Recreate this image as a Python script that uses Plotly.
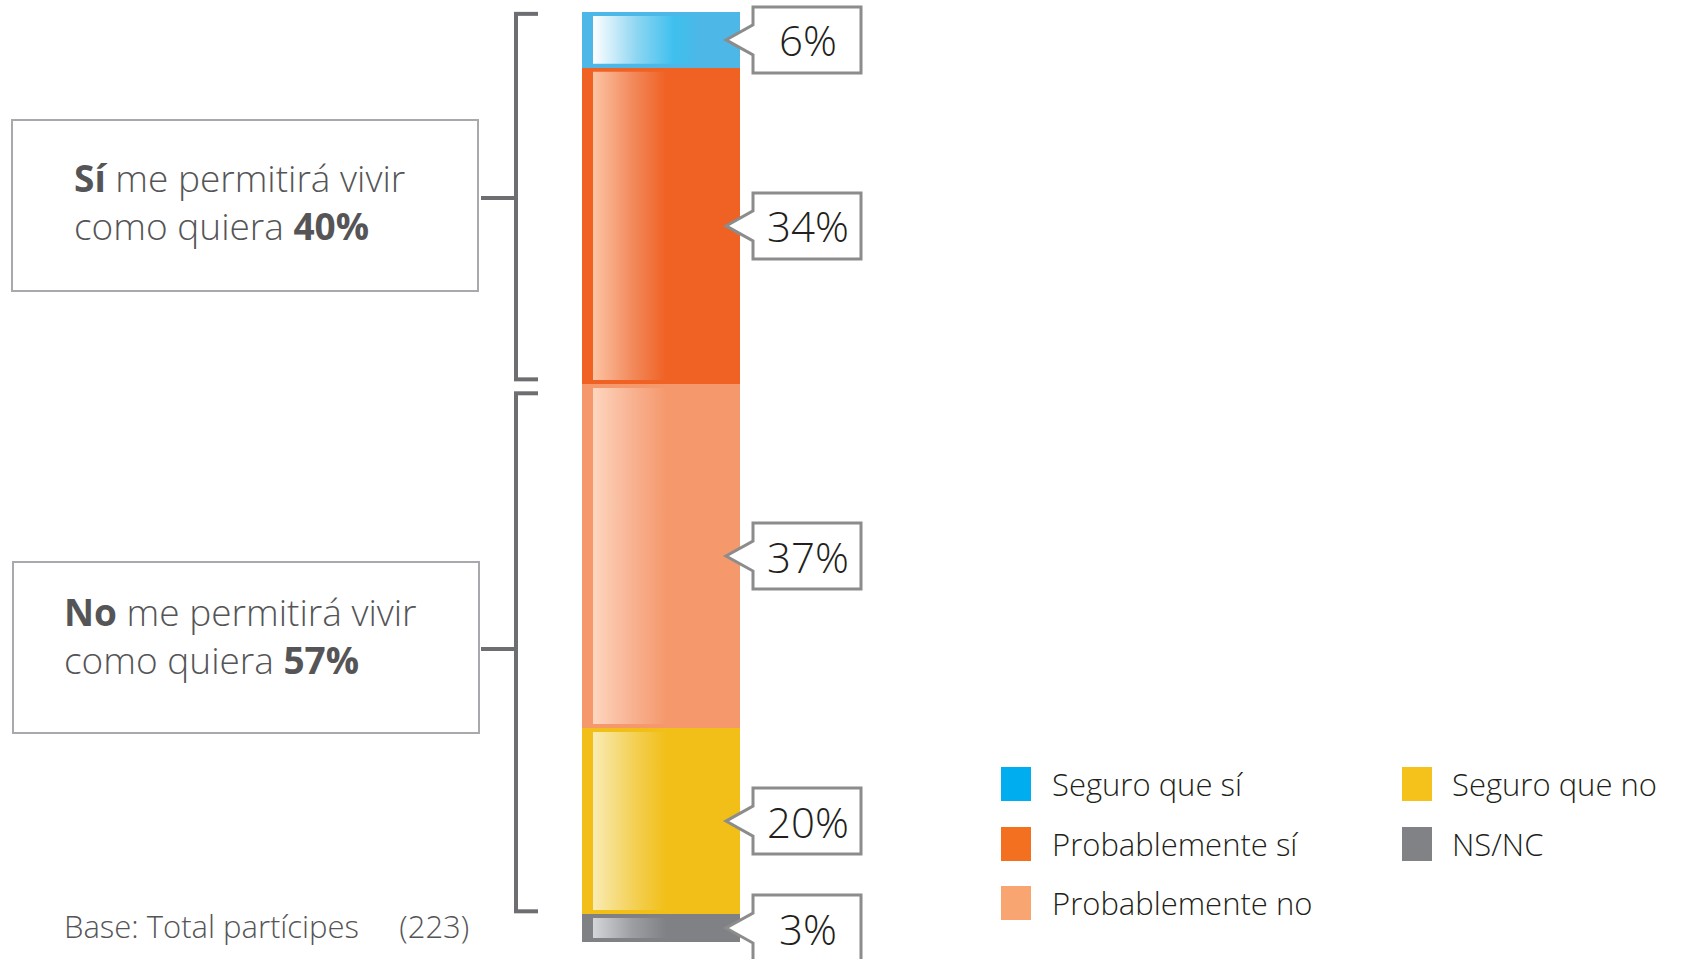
import plotly.graph_objects as go

# ---------------- data ----------------
categories = ["Seguro que sí", "Probablemente sí", "Probablemente no", "Seguro que no", "NS/NC"]
values = [6, 34, 37, 20, 3]
value_labels = ["6%", "34%", "37%", "20%", "3%"]
group_heads = ["Sí", "No"]
group_members = [[0, 1], [2, 3]]
base_note = "Base: Total partícipes\u00a0\u00a0\u00a0\u00a0\u00a0(223)"

# ---------------- styles ----------------
bar_colors = ["#4db7e7", "#f06124", "#f5986c", "#f1bf17", "#808184"]
light_colors = ["#ffffff", "#fcc4a4", "#fdd6bf", "#f9ecb4", "#d3d5d8"]
mid_colors = ["#8fd6f2", "#f28a5c", "#f8b291", "#f4d159", "#9c9ea2"]
legend_colors = ["#00aeef", "#f37021", "#f9a571", "#f4c21a", "#808285"]
W, H = 1687, 959
PX_PER_UNIT = 9.3
Y0_PX = 942                     # pixel row of value 0
BAR_X, BAR_W = 661, 158         # bar centre and width in pixel units
FONT = "Open Sans"
TXT = "#555557"


def py(px):  # pixel row -> paper y
    return 1 - px / H


def u(px):  # pixel length -> y units
    return px / PX_PER_UNIT


fig = go.Figure()

# segment extents (top to bottom)
tops, bots = [], []
acc = 100
for v in values:
    tops.append(acc)
    bots.append(acc - v)
    acc -= v

# stacked bar (bottom category first)
for i in reversed(range(len(values))):
    fig.add_trace(go.Bar(
        x=[BAR_X], y=[values[i]], width=BAR_W, name=categories[i],
        marker=dict(color=bar_colors[i], line=dict(width=0)),
        showlegend=False, hoverinfo="skip"))

# gloss highlight on each segment
hx0 = BAR_X - BAR_W / 2 + 11
for i in range(len(values)):
    hx1 = BAR_X + (40 if i == 0 else 30)
    y0 = bots[i] + u(4)
    y1 = tops[i] - u(4)
    fig.add_trace(go.Scatter(
        x=[hx0, hx1, hx1, hx0, hx0], y=[y0, y0, y1, y1, y0],
        mode="lines", line=dict(width=0), fill="toself",
        fillgradient=dict(type="horizontal",
                          colorscale=[[0, light_colors[i]], [0.4, mid_colors[i]],
                                      [0.75, bar_colors[i] if i else "#3ec0ee"], [1, bar_colors[i]]]),
        showlegend=False, hoverinfo="skip"))

shapes = []
annotations = []

# callouts
bx0, bx1, tip = 753, 861, 726
hh, ah = u(33), u(15)
for i in range(len(values)):
    c = (tops[i] + bots[i]) / 2
    path = (f"M{bx0},{c + ah} L{bx0},{c + hh} L{bx1},{c + hh} L{bx1},{c - hh} "
            f"L{bx0},{c - hh} L{bx0},{c - ah} L{tip},{c} Z")
    shapes.append(dict(type="path", xref="x", yref="y", path=path,
                       fillcolor="white", line=dict(color="#8c8c8c", width=3), layer="above"))
    annotations.append(dict(x=(bx0 + bx1) / 2 + 1, y=c, xref="x", yref="y",
                            text=value_labels[i], showarrow=False,
                            font=dict(family=FONT, size=42, color="#231f20", weight=300)))

# brackets and group boxes
bracket_x, tick_r, tick_l = 516, 538, 481
box_specs = [(12, 478, 120, 291, 72, 202), (13, 479, 562, 733, 62, 635)]
gaps = [(0.2, 0.5), (1.0, 0.3)]
for g, members in enumerate(group_members):
    gtop = tops[members[0]] - gaps[g][0]
    gbot = bots[members[-1]] + gaps[g][1]
    gmid = (tops[members[0]] + bots[members[-1]]) / 2
    line = dict(color="#6d6e71", width=4)
    shapes.append(dict(type="line", xref="x", yref="y", x0=bracket_x, x1=bracket_x, y0=gbot, y1=gtop, line=line))
    shapes.append(dict(type="line", xref="x", yref="y", x0=bracket_x - 2, x1=tick_r, y0=gtop, y1=gtop, line=line))
    shapes.append(dict(type="line", xref="x", yref="y", x0=bracket_x - 2, x1=tick_r, y0=gbot, y1=gbot, line=line))
    shapes.append(dict(type="line", xref="x", yref="y", x0=tick_l, x1=bracket_x, y0=gmid, y1=gmid, line=line))
    x0, x1, y0, y1, tx, ty = box_specs[g]
    shapes.append(dict(type="rect", xref="x", yref="paper", x0=x0, x1=x1, y0=py(y0), y1=py(y1),
                       line=dict(color="#a7a9ac", width=2), fillcolor="rgba(0,0,0,0)"))
    total = sum(values[m] for m in members)
    text = f"<b>{group_heads[g]}</b> me permitirá vivir<br>como quiera <b>{total}%</b>"
    annotations.append(dict(x=tx, y=py(ty), xref="x", yref="paper", xanchor="left",
                            yanchor="middle", align="left", text=text, showarrow=False,
                            font=dict(family=FONT, size=37, color=TXT, weight=300)))

# base note
annotations.append(dict(x=62, y=py(926), xref="x", yref="paper", xanchor="left", yanchor="middle",
                        text=base_note, showarrow=False,
                        font=dict(family=FONT, size=31, color=TXT, weight=300)))

# manual legend (two columns)
leg_cols = [(1001, 1050), (1402, 1450)]
leg_rows = [784, 844, 903]
leg_pos = [(0, 0), (0, 1), (0, 2), (1, 0), (1, 1)]
for i, name in enumerate(categories):
    col, row = leg_pos[i]
    sx, tx = leg_cols[col]
    cy = leg_rows[row]
    shapes.append(dict(type="rect", xref="x", yref="paper", x0=sx, x1=sx + 30,
                       y0=py(cy - 17), y1=py(cy + 17), line=dict(width=0), fillcolor=legend_colors[i]))
    annotations.append(dict(x=tx, y=py(cy), xref="x", yref="paper", xanchor="left", yanchor="middle",
                            text=name, showarrow=False,
                            font=dict(family=FONT, size=31, color="#231f20", weight=300)))

fig.update_layout(
    width=W, height=H, margin=dict(l=0, r=0, t=0, b=0),
    paper_bgcolor="white", plot_bgcolor="white",
    barmode="stack", bargap=0,
    xaxis=dict(range=[0, W], visible=False, fixedrange=True),
    yaxis=dict(range=[-(H - Y0_PX) / PX_PER_UNIT, Y0_PX / PX_PER_UNIT], visible=False, fixedrange=True),
    shapes=shapes, annotations=annotations, showlegend=False,
)

fig.write_html("out.html", config={"displayModeBar": False},
               post_script="document.body.style.margin='0';")
